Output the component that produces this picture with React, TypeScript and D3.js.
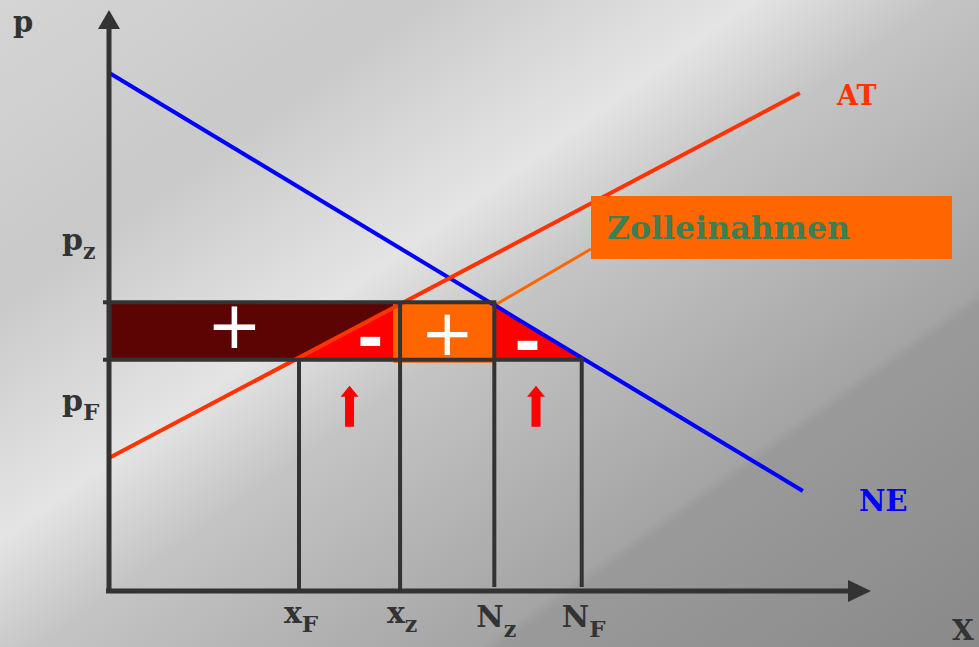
import React from "react";
import * as d3 from "d3";

const W = 979;
const H = 647;

// Quantities marked on the X axis (name + subscript + value)
const quantityNames = ["x", "x", "N", "N"];
const quantitySubs = ["F", "z", "z", "F"];
const quantityValues = [25.0, 38.3, 50.7, 62.2];

// Prices marked on the p axis
const priceNames = ["p", "p"];
const priceSubs = ["z", "F"];
const priceValues = [49.7, 39.8];

// Supply (AT) and demand (NE) curves, [x, p]
const atCurve: [number, number][] = [[0, 22.9], [90.9, 85.7]];
const neCurve: [number, number][] = [[0, 89.2], [91.3, 17.2]];

// Welfare effect signs: producer gain, two losses, tariff revenue
const areaSigns = ["+", "-", "+", "-"];

const serif = "'DejaVu Serif', 'Liberation Serif', serif";
const sans = "'DejaVu Sans', 'Liberation Sans', sans-serif";
const ink = "#333333";

export default function App() {
  const x = d3.scaleLinear().domain([0, 100]).range([109, 869]);
  const y = d3.scaleLinear().domain([0, 100]).range([591, 10]);

  const [xF, xZ, nZ, nF] = quantityValues.map((v) => x(v));
  const [pZ, pF] = priceValues.map((v) => y(v));
  const x0 = x(0);
  const y0 = y(0);

  const line = d3
    .line<[number, number]>()
    .x((d) => x(d[0]))
    .y((d) => y(d[1]));

  const poly = (pts: [number, number][]) => pts.map((p) => p.join(",")).join(" ");

  // Areas between the two price levels
  const maroonArea = poly([[x0, pZ], [xZ, pZ], [xF, pF], [x0, pF]]);
  const leftLoss = poly([[xF, pF], [xZ, pZ], [xZ, pF]]);
  const rightLoss = poly([[nZ, pZ], [nF, pF], [nZ, pF]]);

  // Tariff revenue label box
  const box = { x: 591, y: 196, w: 361, h: 63 };
  const revCx = (xZ + nZ) / 2;
  const revCy = (pZ + pF) / 2 + 2;

  const signPos: [number, number][] = [
    [x0 + (xF - x0) * 0.66, (pZ + pF) / 2 - 6],
    [(xF + 2 * xZ) / 3 + 4, (pZ + 2 * pF) / 3 - 3],
    [revCx, revCy],
    [(2 * nZ + nF) / 3 + 4, (pZ + 2 * pF) / 3 + 1],
  ];
  const signSize = [66, 64, 64, 64];

  // Upward red arrows under the loss triangles
  const arrowXs = [(xF + xZ) / 2, (nZ + nF) / 2 - 2];
  const arrowPath = (cx: number) => {
    const tip = pF + 26;
    const neck = tip + 11;
    const bottom = tip + 41;
    const p = d3.path();
    p.moveTo(cx, tip);
    p.lineTo(cx + 9, neck);
    p.lineTo(cx + 4.5, neck);
    p.lineTo(cx + 4.5, bottom);
    p.lineTo(cx - 4.5, bottom);
    p.lineTo(cx - 4.5, neck);
    p.lineTo(cx - 9, neck);
    p.closePath();
    return p.toString();
  };

  const xAxisEnd = x(100);
  const yAxisTop = y(100);

  // price labels sit above p_z and below p_F
  const priceLabelOffset = [-52, 51];

  return (
    <svg
      width={W}
      height={H}
      viewBox={`0 0 ${W} ${H}`}
      style={{ position: "absolute", left: 0, top: 0, display: "block" }}
    >
      <defs>
        <linearGradient id="bg" gradientUnits="userSpaceOnUse" x1={0} y1={0} x2={638} y2={891}>
          <stop offset="0" stopColor="#d5d5d5" />
          <stop offset="0.22" stopColor="#c9c9c9" />
          <stop offset="0.40" stopColor="#e4e4e4" />
          <stop offset="0.50" stopColor="#c4c4c4" />
          <stop offset="0.70" stopColor="#a9a9a9" />
          <stop offset="0.735" stopColor="#a4a4a4" />
          <stop offset="0.745" stopColor="#9a9a9a" />
          <stop offset="1" stopColor="#898989" />
        </linearGradient>
      </defs>
      <rect x={0} y={0} width={W} height={H} fill="url(#bg)" />

      {/* pointer from revenue area to its label */}
      <line x1={revCx} y1={revCy} x2={box.x} y2={box.y + 53} stroke="#ff6600" strokeWidth={3} />

      {/* welfare areas */}
      <polygon points={maroonArea} fill="#5c0404" />
      <polygon points={leftLoss} fill="#ff0000" />
      <polygon points={rightLoss} fill="#ff0000" />
      <rect x={xZ - 7} y={pZ} width={nZ - xZ + 7} height={pF - pZ + 3} fill="#ff6600" />

      {/* curves */}
      <path d={line(neCurve) || ""} fill="none" stroke="#0000ff" strokeWidth={4} />
      <path d={line(atCurve) || ""} fill="none" stroke="#ff3300" strokeWidth={4} />

      {/* price levels */}
      <line x1={x0 - 6} y1={pZ} x2={nZ + 2} y2={pZ} stroke={ink} strokeWidth={4} />
      <line x1={x0 - 6} y1={pF} x2={nF + 2} y2={pF} stroke={ink} strokeWidth={4} />

      {/* quantity drop lines */}
      <line x1={xF} y1={pF} x2={xF} y2={y0} stroke={ink} strokeWidth={4} />
      <line x1={xZ} y1={pZ} x2={xZ} y2={y0} stroke={ink} strokeWidth={4} />
      <line x1={nZ} y1={pZ} x2={nZ} y2={y0 - 4} stroke={ink} strokeWidth={4} />
      <line x1={nF} y1={pF} x2={nF} y2={y0 - 4} stroke={ink} strokeWidth={4} />

      {/* axes */}
      <line x1={x0} y1={y0 + 2} x2={x0} y2={yAxisTop + 16} stroke={ink} strokeWidth={5} />
      <polygon
        points={poly([[x0, yAxisTop], [x0 + 11, yAxisTop + 19], [x0 - 11, yAxisTop + 19]])}
        fill={ink}
      />
      <line x1={x0 - 3} y1={y0} x2={xAxisEnd - 18} y2={y0} stroke={ink} strokeWidth={5} />
      <polygon
        points={poly([[xAxisEnd + 2, y0], [xAxisEnd - 21, y0 - 11], [xAxisEnd - 21, y0 + 11]])}
        fill={ink}
      />

      {/* area signs */}
      {areaSigns.map((s, i) => (
        <text
          key={"s" + i}
          x={signPos[i][0]}
          y={signPos[i][1]}
          fontFamily={sans}
          fontWeight={s === "-" ? 700 : 400}
          fontSize={signSize[i]}
          fill="#ffffff"
          textAnchor="middle"
          dominantBaseline="central"
        >
          {s}
        </text>
      ))}

      {/* arrows */}
      {arrowXs.map((cx, i) => (
        <path key={"a" + i} d={arrowPath(cx)} fill="#ff0000" />
      ))}

      {/* axis titles */}
      <text x={13} y={32} fontFamily={serif} fontWeight={700} fontSize={29} fill={ink}>
        p
      </text>
      <text x={952} y={640} fontFamily={serif} fontWeight={700} fontSize={28} fill={ink}>
        X
      </text>

      {/* price labels */}
      {priceValues.map((v, i) => (
        <text
          key={"p" + i}
          x={62}
          y={y(v) + priceLabelOffset[i]}
          fontFamily={serif}
          fontWeight={700}
          fontSize={30}
          fill={ink}
        >
          {priceNames[i]}
          <tspan fontSize={priceSubs[i] === "F" ? 23 : 22} dy={9}>
            {priceSubs[i]}
          </tspan>
        </text>
      ))}

      {/* quantity labels */}
      {quantityValues.map((v, i) => (
        <text
          key={"q" + i}
          x={x(v) + 2}
          y={quantityNames[i] === "x" ? 623 : 627}
          fontFamily={serif}
          fontWeight={700}
          fontSize={30}
          fill={ink}
          textAnchor="middle"
        >
          {quantityNames[i]}
          <tspan fontSize={quantitySubs[i] === "F" ? 23 : 22} dy={quantityNames[i] === "x" ? 9 : 10}>
            {quantitySubs[i]}
          </tspan>
        </text>
      ))}

      {/* curve names */}
      <text x={837} y={105} fontFamily={serif} fontWeight={700} fontSize={27} fill="#ff3300">
        AT
      </text>
      <text x={859} y={511} fontFamily={serif} fontWeight={700} fontSize={29} fill="#0000ff">
        NE
      </text>

      {/* tariff revenue label */}
      <rect x={box.x} y={box.y} width={box.w} height={box.h} fill="#ff6600" />
      <text
        x={box.x + 16}
        y={box.y + 43}
        fontFamily={serif}
        fontWeight={700}
        fontSize={32}
        fill="#3f7d52"
        textLength={243}
        lengthAdjust="spacingAndGlyphs"
      >
        Zolleinahmen
      </text>
    </svg>
  );
}
